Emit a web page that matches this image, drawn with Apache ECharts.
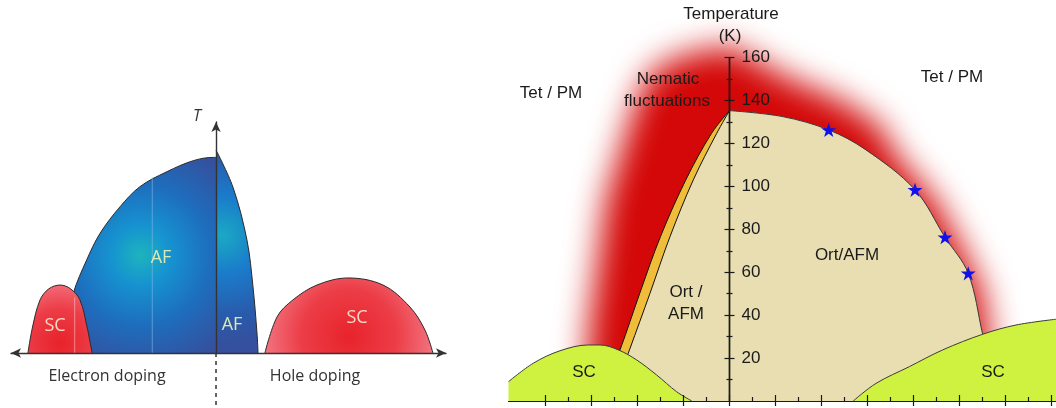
<!DOCTYPE html>
<html><head><meta charset="utf-8">
<script src="https://cdn.jsdelivr.net/npm/echarts@6/dist/echarts.min.js"></script>
<style>html,body{margin:0;padding:0;background:#fff}#c{width:1056px;height:408px}</style>
</head><body><div id="c"></div>
<script>
// ===== Left panel: schematic phase diagram (arbitrary units: doping, normalised T) =====
const electronAF = [[-0.722,0],[-0.713,0.110],[-0.683,0.253],[-0.619,0.394],[-0.555,0.507],[-0.459,0.620],[-0.364,0.705],[-0.236,0.768],[-0.109,0.815],[-0.013,0.829],[0,0.829]];
const holeAF = [[0,0.860],[0.081,0.703],[0.148,0.479],[0.177,0.280],[0.196,0.085],[0.201,0]];
const electronSC = [[-0.900,0],[-0.878,0.11],[-0.842,0.225],[-0.800,0.272],[-0.746,0.288],[-0.696,0.272],[-0.651,0.225],[-0.617,0.11],[-0.593,0]];
const holeSC = [[0.234,0],[0.292,0.153],[0.368,0.225],[0.483,0.288],[0.632,0.318],[0.799,0.288],[0.928,0.195],[1.0,0.097],[1.038,0]];
const afFaintLine = [[-0.305,0.746],[-0.305,0]];
const scFaintLine = [[-0.676,0.237],[-0.676,0]];
const dopingDivider = [[0,0],[0,-0.233]];

// ===== Right panel: Temperature (K) vs doping =====
const yMajorTicks = [20,40,60,80,100,120,140,160];
const yMinorTicks = [10,30,50,70,90,110,130,150];
const xMajorTicks = [-4,-3,-2,-1,0,1,2,3,4,5,6,7];
const xMinorTicks = [-3.5,-2.5,-1.5,-0.5,0.5,1.5,2.5,3.5,4.5,5.5,6.5];
const nematicGlow = [[-3.1,0],[-3.08,29.8],[-2.69,93.7],[-2.16,130.9],[-1.90,146.5],[-1.6,155],[-0.97,161.5],[0,165.5],[1.315,150],[2.40,140.3],[3.27,128.4],[3.6,114.6],[4.467,93.7],[5.01,72.7],[5.49,51.7],[5.62,33.1],[5.71,9.8],[5.72,0]];
const nematicBand = [[-2.82,0],[-2.38,23.8],[-1.95,50.2],[-1.50,76.6],[-0.95,103],[-0.39,124.7],[0,135.3]];
const ortLeft = [[-2.58,0],[-2.174,23.8],[-1.728,50.2],[-1.293,76.6],[-0.787,103],[-0.278,124.7],[0,135.3]];
const ortRight = [[0,135.3],[1.157,132.5],[2.157,126.3],[2.967,117],[4.033,98.4],[4.685,76.3],[5.19,59.5],[5.504,31.1],[5.85,0]];
const scLeft = [[-4.804,9],[-4.265,17.6],[-3.685,23.4],[-3.07,26.1],[-2.815,26.1],[-2.417,23.8],[-2.017,19.1],[-1.583,12.1],[-1.148,4.3],[-0.82,0]];
const scRight = [[2.69,0],[3.185,8.2],[3.909,16.0],[4.635,23.8],[5.504,31.1],[6.228,35.4],[7.098,38.1]];
const starPoints = [[2.157,126.3],[4.033,98.4],[4.685,76.3],[5.19,59.5]];

const STAR = 'path://M50,0L61.2,34.5L97.6,34.5L68.2,55.9L79.4,90.5L50,69.1L20.6,90.5L31.8,55.9L2.4,34.5L38.8,34.5Z';
const chart = echarts.init(document.getElementById('c'), null, {renderer:'canvas'});

const blueBig = {type:'radial', x:0.5, y:0.5, r:0.78, colorStops:[
  {offset:0,color:'#1db4bd'},{offset:0.25,color:'#1693d0'},{offset:0.6,color:'#1e6dbd'},{offset:1,color:'#35509d'}]};
const blueSmall = {type:'radial', x:0.15, y:0.42, r:2.6, colorStops:[
  {offset:0,color:'#1aa9c4'},{offset:0.35,color:'#1a7ccb'},{offset:0.75,color:'#2a5aab'},{offset:1,color:'#34509e'}]};
const redL = {type:'radial', x:0.5, y:0.85, r:0.95, colorStops:[
  {offset:0,color:'#e8222a'},{offset:0.55,color:'#ec3c46'},{offset:1,color:'#f2707c'}]};
const redR = {type:'radial', x:0.5, y:0.78, r:1.15, colorStops:[
  {offset:0,color:'#e8232b'},{offset:0.55,color:'#ec3d47'},{offset:1,color:'#f27682'}]};

function area(data, xi, fill, line, z, lw){
  return {type:'line', xAxisIndex:xi, yAxisIndex:xi, data:data, smooth:0.35,
    symbol:'none', silent:true, z:z, clip:false,
    lineStyle:{color:line, width:lw||1}, areaStyle:{color:fill, opacity:1}};
}
function plain(data, xi, color, z, w, type){
  return {type:'line', xAxisIndex:xi, yAxisIndex:xi, data:data, symbol:'none', silent:true, z:z, clip:false,
    lineStyle:{color:color, width:w, type:type||'solid'}};
}
const lineBlack = {color:'#1a1a1a', width:1.2};
const noAxisBits = {splitLine:{show:false}, axisLabel:{show:false}, axisTick:{show:false}};
function rightGrid(left){ return {left:left, right:0, top:57.6, bottom:7, outerBoundsMode:'none', containLabel:false}; }
function hiddenX(g, min, max){ return {gridIndex:g, type:'value', min:min, max:max, show:false}; }
function hiddenY(g){ return {gridIndex:g, type:'value', min:0, max:160, show:false}; }
function xTickAxis(g, ticks, len, inside, showLine){
  return {gridIndex:g, type:'value', min:-4.804, max:7.098, position:'bottom', z:10,
    splitLine:{show:false}, axisLabel:{show:false},
    axisLine:{show:showLine, onZero:false, lineStyle:lineBlack},
    axisTick:{show:true, customValues:ticks, length:len, inside:inside, lineStyle:lineBlack}};
}
function yTickAxis(g, ticks, len, inside, labels){
  return {gridIndex:g, type:'value', min:0, max:160, position:'left', z:10,
    splitLine:{show:false},
    axisLine:{show:true, onZero:false, lineStyle:lineBlack},
    axisTick:{show:true, customValues:ticks, length:len, inside:inside, lineStyle:lineBlack},
    axisLabel:labels ? {show:true, customValues:yMajorTicks, inside:true, margin:12, color:'#1a1a1a', fontSize:17,
      fontFamily:'Liberation Sans, Arial, sans-serif'} : {show:false}};
}

const option = {
  animation:false,
  backgroundColor:'#ffffff',
  grid:[
    {left:11, right:610, top:122, bottom:55, outerBoundsMode:'none', containLabel:false},
    rightGrid(508.5), rightGrid(508.5), rightGrid(508.5),
    rightGrid(729.5), rightGrid(729.5), rightGrid(729.5), rightGrid(729.5)
  ],
  xAxis:[
    Object.assign({gridIndex:0, type:'value', min:-0.981, max:1.1005, z:10,
      axisLine:{show:true, onZero:true, symbol:['arrow','arrow'], symbolSize:[7,10], lineStyle:{color:'#333', width:1.4}}}, noAxisBits),
    xTickAxis(1, xMajorTicks, 5, false, true),
    xTickAxis(2, xMajorTicks, 6, true, false),
    xTickAxis(3, xMinorTicks, 4, true, false),
    hiddenX(4, 0, 1), hiddenX(5, 0, 1), hiddenX(6, 0, 1), hiddenX(7, 0, 1)
  ],
  yAxis:[
    Object.assign({gridIndex:0, type:'value', min:0, max:0.979, z:10,
      axisLine:{show:true, onZero:true, symbol:['none','arrow'], symbolSize:[7,10], lineStyle:{color:'#333', width:1.4}}}, noAxisBits),
    hiddenY(1), hiddenY(2), hiddenY(3),
    yTickAxis(4, yMajorTicks, 5, false, true),
    yTickAxis(5, yMajorTicks, 5, true, false),
    yTickAxis(6, yMinorTicks, 3, false, false),
    yTickAxis(7, yMinorTicks, 3, true, false)
  ],
  series:[
    // left panel
    area(electronAF, 0, blueBig, '#2a2a2a', 2),
    area(holeAF, 0, blueSmall, '#2a2a2a', 2),
    plain(afFaintLine, 0, 'rgba(140,190,235,0.55)', 3, 1),
    area(electronSC, 0, redL, '#2a2a2a', 4),
    plain(scFaintLine, 0, 'rgba(255,210,210,0.55)', 5, 1),
    area(holeSC, 0, redR, '#2a2a2a', 4),
    plain(dopingDivider, 0, '#333', 5, 1.5, [4,4]),
    // right panel
    {type:'custom', xAxisIndex:1, yAxisIndex:1, silent:true, clip:false, z:1, data:[[0,0]],
      renderItem:function(params, api){
        const pts = nematicGlow.map(function(p){return api.coord(p);});
        const off = 4000;
        return {type:'polygon', x:-off, shape:{points:pts},
          style:{fill:'#d40808', shadowBlur:32, shadowColor:'#d40808', shadowOffsetX:off}};
      }},
    area(nematicBand, 1, '#f0bd3a', '#111', 2, 1),
    area(ortLeft, 1, '#e8deb1', '#111', 3, 1),
    area(ortRight, 1, '#e8deb1', '#3a3a3a', 3, 1),
    area(scLeft, 1, '#cef23f', '#3a3a3a', 4, 1),
    area(scRight, 1, '#cef23f', '#3a3a3a', 4, 1),
    {type:'scatter', xAxisIndex:1, yAxisIndex:1, data:starPoints, symbol:STAR, symbolSize:15, symbolKeepAspect:true,
      silent:true, z:6, itemStyle:{color:'#1212e8', opacity:1}}
  ],
  graphic:[
    {type:'rect', z:5, silent:true, shape:{x:500, y:401.6, width:556, height:8}, style:{fill:'#ffffff'}},
    // left panel texts
    {type:'text', z:50, x:197, y:116, style:{text:'T', font:'italic 16px "Open Sans", sans-serif', fill:'#333', align:'center', verticalAlign:'middle'}},
    {type:'text', z:50, x:161, y:258, style:{text:'AF', font:'18px "Open Sans", sans-serif', fill:'#d8e8b8', align:'center', verticalAlign:'middle'}},
    {type:'text', z:50, x:232, y:325, style:{text:'AF', font:'18px "Open Sans", sans-serif', fill:'#d8e8b8', align:'center', verticalAlign:'middle'}},
    {type:'text', z:50, x:55, y:326, style:{text:'SC', font:'18px "Open Sans", sans-serif', fill:'#f9d8c6', align:'center', verticalAlign:'middle'}},
    {type:'text', z:50, x:357, y:318, style:{text:'SC', font:'18px "Open Sans", sans-serif', fill:'#f9d8c6', align:'center', verticalAlign:'middle'}},
    {type:'text', z:50, x:107, y:376, style:{text:'Electron doping', font:'16px "Open Sans", sans-serif', fill:'#333333', align:'center', verticalAlign:'middle'}},
    {type:'text', z:50, x:315, y:376, style:{text:'Hole doping', font:'16px "Open Sans", sans-serif', fill:'#333333', align:'center', verticalAlign:'middle'}},
    // right panel texts
    {type:'text', z:50, x:731, y:14, style:{text:'Temperature', font:'17px "Liberation Sans", Arial, sans-serif', fill:'#1a1a1a', align:'center', verticalAlign:'middle'}},
    {type:'text', z:50, x:730, y:36, style:{text:'(K)', font:'17px "Liberation Sans", Arial, sans-serif', fill:'#1a1a1a', align:'center', verticalAlign:'middle'}},
    {type:'text', z:50, x:551, y:93, style:{text:'Tet / PM', font:'17px "Liberation Sans", Arial, sans-serif', fill:'#1a1a1a', align:'center', verticalAlign:'middle'}},
    {type:'text', z:50, x:952, y:77, style:{text:'Tet / PM', font:'17px "Liberation Sans", Arial, sans-serif', fill:'#1a1a1a', align:'center', verticalAlign:'middle'}},
    {type:'text', z:50, x:668, y:79, style:{text:'Nematic', font:'17px "Liberation Sans", Arial, sans-serif', fill:'#1a1a1a', align:'center', verticalAlign:'middle'}},
    {type:'text', z:50, x:667, y:101, style:{text:'fluctuations', font:'17px "Liberation Sans", Arial, sans-serif', fill:'#1a1a1a', align:'center', verticalAlign:'middle'}},
    {type:'text', z:50, x:847, y:255, style:{text:'Ort/AFM', font:'17px "Liberation Sans", Arial, sans-serif', fill:'#1a1a1a', align:'center', verticalAlign:'middle'}},
    {type:'text', z:50, x:686, y:292, style:{text:'Ort /', font:'17px "Liberation Sans", Arial, sans-serif', fill:'#1a1a1a', align:'center', verticalAlign:'middle'}},
    {type:'text', z:50, x:686, y:314, style:{text:'AFM', font:'17px "Liberation Sans", Arial, sans-serif', fill:'#1a1a1a', align:'center', verticalAlign:'middle'}},
    {type:'text', z:50, x:584, y:372, style:{text:'SC', font:'17px "Liberation Sans", Arial, sans-serif', fill:'#1a1a1a', align:'center', verticalAlign:'middle'}},
    {type:'text', z:50, x:993, y:372, style:{text:'SC', font:'17px "Liberation Sans", Arial, sans-serif', fill:'#1a1a1a', align:'center', verticalAlign:'middle'}}
  ]
};
chart.setOption(option);
</script></body></html>
